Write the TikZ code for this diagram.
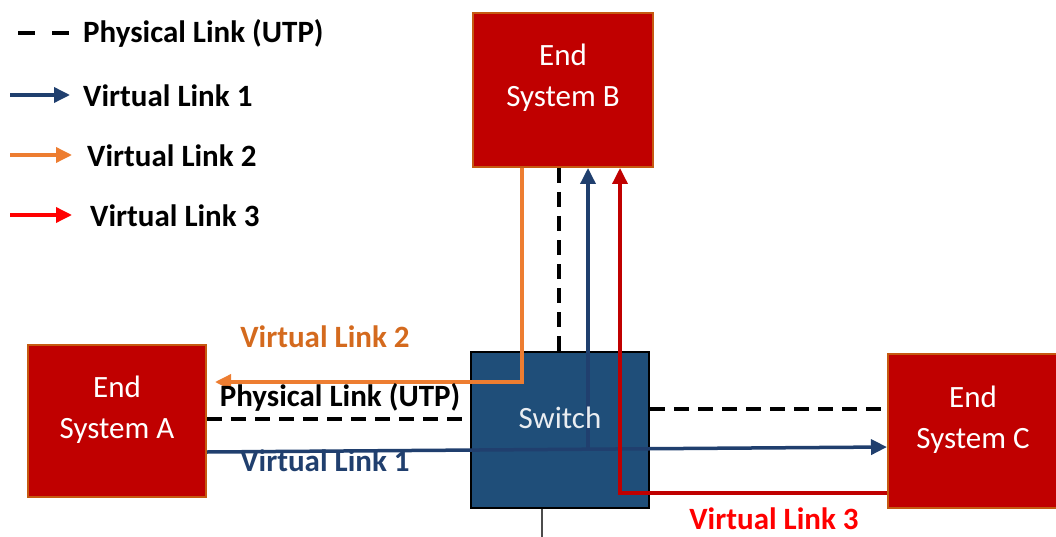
\documentclass[tikz,border=0pt]{standalone}
\usepackage{fontspec}
\setmainfont{Carlito}
\usetikzlibrary{arrows.meta,calc}
\definecolor{esred}{HTML}{C00000}
\definecolor{esborder}{HTML}{C55A11}
\definecolor{swblue}{HTML}{1F4E79}
\definecolor{vlblue}{HTML}{203F6E}
\definecolor{vlorange}{HTML}{ED7D31}
\definecolor{lblorange}{HTML}{D46A1E}
\definecolor{vlred}{HTML}{C00000}
\definecolor{lgred}{HTML}{FF0000}
\tikzset{
  esbox/.style={draw=esborder, line width=2pt, fill=esred, inner sep=0pt},
  swbox/.style={draw=black, line width=2.5pt, fill=swblue, inner sep=0pt},
  boxtext/.style={text=white, align=center, font=\fontsize{31}{41}\selectfont},
  lbl/.style={font=\fontsize{31}{36}\selectfont\bfseries, inner sep=0pt},
  phys/.style={draw=black, line width=4pt, dash pattern=on 15pt off 9pt},
  tip/.style={-{Triangle[length=16pt,width=15pt]}},
  vlone/.style={draw=vlblue, line width=3.5pt},
  vltwo/.style={draw=vlorange, line width=3.5pt},
  vlthree/.style={draw=vlred, line width=3.5pt},
}
\begin{document}
\begin{tikzpicture}[x=1pt,y=-1pt]
\useasboundingbox (0,0) rectangle (1056,537);
% boxes
\node[esbox, minimum width=180pt, minimum height=154pt] (esB) at (563,90) {};
\node[esbox, minimum width=178pt, minimum height=152pt] (esA) at (117,421) {};
\node[esbox, minimum width=170pt, minimum height=154pt] (esC) at (973,431) {};
\node[swbox, minimum width=178pt, minimum height=156pt] (sw) at (560,430) {};
% stub below switch
\coordinate (stub) at (542,537);
\draw[draw=black!70, line width=1.3pt] (stub |- sw.south) -- (stub);
% physical links
\draw[phys] ([xshift=-4pt]esB.south) -- ([xshift=-4pt]esB.south |- sw.north);
\draw[phys] ([yshift=2pt]esA.east) -- ([yshift=2pt]esA.east -| sw.west);
\draw[phys] ([yshift=21pt]sw.east) -- ([yshift=21pt]sw.east -| esC.west);
% virtual link 2
\draw[vltwo, tip, shorten >=8pt] ([xshift=-41pt]esB.south) |- ([yshift=39pt]esA.east);
% virtual link 1
\coordinate (j1) at (588,450);
\draw[vlone, tip] ([yshift=-31pt]esA.east) -- ([yshift=-16pt]esC.west);
\draw[vlone, tip] (j1) -- (j1 |- esB.south);
% virtual link 3
\coordinate (r1) at (620,493);
\draw[vlthree, tip] (r1 -| esC.west) -- (r1) -- (r1 |- esB.south);
% box texts
\node[boxtext] (tB) at ([yshift=12pt]esB.center) {End\\System B};
\node[boxtext] (tA) at ([yshift=11pt]esA.center) {End\\System A};
\node[boxtext] (tC) at ([yshift=11pt]esC.center) {End\\System C};
\node[boxtext, text=white!90!swblue] (tS) at ([yshift=12pt]sw.center) {Switch};
% labels
\node[lbl, text=lblorange, anchor=center] (l2) at (325,337) {Virtual Link 2};
\node[lbl, anchor=center] (lp) at (340,397) {Physical Link (UTP)};
\node[lbl, text=vlblue, anchor=center] (l1) at (325,461) {Virtual Link 1};
\node[lbl, text=lgred, anchor=center] (l3) at (774,519) {Virtual Link 3};
% legend
\coordinate (g0a) at (18,33); \coordinate (g0b) at (70,33);
\draw[draw=black, line width=4pt, dash pattern=on 17pt off 17pt] (g0a) -- (g0b);
\node[lbl, anchor=west] (g0) at (83,33) {Physical Link (UTP)};
\coordinate (g1a) at (10,95); \coordinate (g1b) at (70,95);
\draw[vlone, tip] (g1a) -- (g1b);
\node[lbl, anchor=west] (g1) at (83,96) {Virtual Link 1};
\coordinate (g2a) at (10,155); \coordinate (g2b) at (72,155);
\draw[vltwo, tip] (g2a) -- (g2b);
\node[lbl, anchor=west] (g2) at (87,156) {Virtual Link 2};
\coordinate (g3a) at (10,215); \coordinate (g3b) at (72,215);
\draw[draw=lgred, line width=3.5pt, tip] (g3a) -- (g3b);
\node[lbl, anchor=west] (g3) at (90,216) {Virtual Link 3};
\end{tikzpicture}
\end{document}
